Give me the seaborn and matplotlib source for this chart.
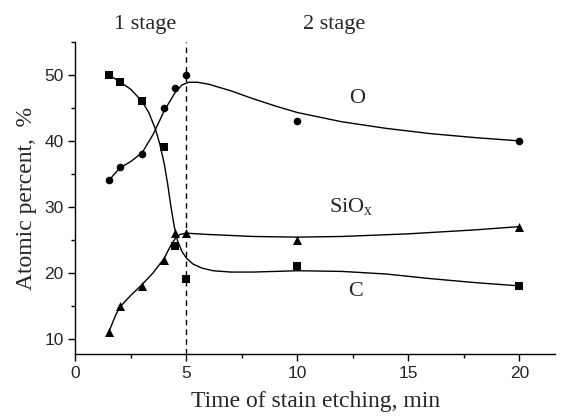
import numpy as np
import pandas as pd
import matplotlib
matplotlib.use("Agg")
import matplotlib.pyplot as plt
import seaborn as sns
from matplotlib.ticker import MultipleLocator

# --- measured points ---
TIME = [1.5, 2, 3, 4, 4.5, 5, 10, 20]
O_VALS = [34, 36, 38, 45, 48, 50, 43, 40]
C_VALS = [50, 49, 46, 39, 24, 19, 21, 18]
SIOX_VALS = [11, 15, 18, 22, 26, 26, 25, 27]

# --- fitted guide curves ---
O_FIT_X = [1.5, 2, 2.5, 3, 3.5, 4, 4.5, 4.8, 5.1, 5.5, 6, 7, 8, 9, 10, 12, 14, 16, 18, 20]
O_FIT_Y = [34, 35.9, 36.9, 38.2, 41, 44.6, 47.4, 48.5, 48.9, 48.9, 48.6, 47.6, 46.4, 45.3, 44.3, 42.9, 41.9, 41.1, 40.5, 40]
C_FIT_X = [1.5, 2, 2.5, 3, 3.3, 3.6, 3.8, 4.0, 4.15, 4.3, 4.45, 4.6, 4.8, 5.0, 5.3, 5.7, 6.2, 7, 8, 10, 12, 14, 16, 18, 20]
C_FIT_Y = [50, 49, 47.8, 46, 44.3, 41.8, 39.5, 36.5, 33.5, 30, 27, 24.8, 23.2, 22.2, 21.3, 20.7, 20.3, 20.1, 20.1, 20.3, 20.2, 19.8, 19.1, 18.5, 18]
S_FIT_X = [1.5, 1.8, 2, 2.5, 3, 3.5, 4, 4.3, 4.5, 4.7, 5, 6, 8, 10, 12, 15, 18, 20]
S_FIT_Y = [11, 13.5, 14.8, 16.6, 18.2, 20, 22.2, 24.2, 25.2, 25.8, 26, 25.8, 25.5, 25.4, 25.5, 25.9, 26.5, 27]

SERIES = [("O", O_VALS, "o", O_FIT_X, O_FIT_Y),
          ("C", C_VALS, "s", C_FIT_X, C_FIT_Y),
          ("SiOx", SIOX_VALS, "^", S_FIT_X, S_FIT_Y)]

sns.set_style("ticks")
plt.rcParams['font.family'] = ['Liberation Serif', 'DejaVu Serif']
plt.rcParams['xtick.direction'] = 'out'
plt.rcParams['ytick.direction'] = 'out'

fig = plt.figure(figsize=(5.71, 4.18), dpi=100)
ax = fig.add_axes([0.1322, 0.153, 0.8398, 0.7464])

for name, vals, mk, fx, fy in SERIES:
    sns.lineplot(x=fx, y=fy, color='black', lw=1.0, ax=ax, sort=False)
    size = 42 if mk == "^" else 30
    sns.scatterplot(x=TIME, y=vals, marker=mk, color='black', s=size,
                    edgecolor='black', linewidth=0, ax=ax, zorder=3)

# boundary between the two etching stages
ax.axvline(5, color='black', lw=1.0, ls=(0, (4, 3)))

ax.set_xlim(0, 21.6)
ax.set_ylim(7.66, 55)
ax.xaxis.set_major_locator(MultipleLocator(5))
ax.xaxis.set_minor_locator(MultipleLocator(2.5))
ax.yaxis.set_major_locator(MultipleLocator(10))
ax.yaxis.set_minor_locator(MultipleLocator(5))
ax.set_yticks([10, 20, 30, 40, 50])
ax.tick_params(which='major', length=5, width=1, color='black')
ax.tick_params(which='minor', length=3, width=1, color='black')
for lab in ax.get_xticklabels() + ax.get_yticklabels():
    lab.set_family(['Liberation Sans', 'DejaVu Sans'])
    lab.set_fontsize(12.5)
for sp in ['left', 'bottom']:
    ax.spines[sp].set_color('black')
    ax.spines[sp].set_linewidth(1)
sns.despine(ax=ax)

ax.set_xlabel("Time of stain etching, min", fontsize=17, labelpad=7)
ax.set_ylabel("Atomic percent,  %", fontsize=17, labelpad=5)

ax.text(3.13, 57.6, "1 stage", fontsize=16, ha='center', va='center', clip_on=False)
ax.text(11.64, 57.6, "2 stage", fontsize=16, ha='center', va='center', clip_on=False)
ax.text(12.7, 46.5, "O", fontsize=16, ha='center', va='center')
ax.text(12.4, 30.0, "SiO$_\\mathregular{x}$", fontsize=16, ha='center', va='center')
ax.text(12.6, 17.1, "C", fontsize=16, ha='center', va='center')

fig.savefig("out.png", dpi=100)
